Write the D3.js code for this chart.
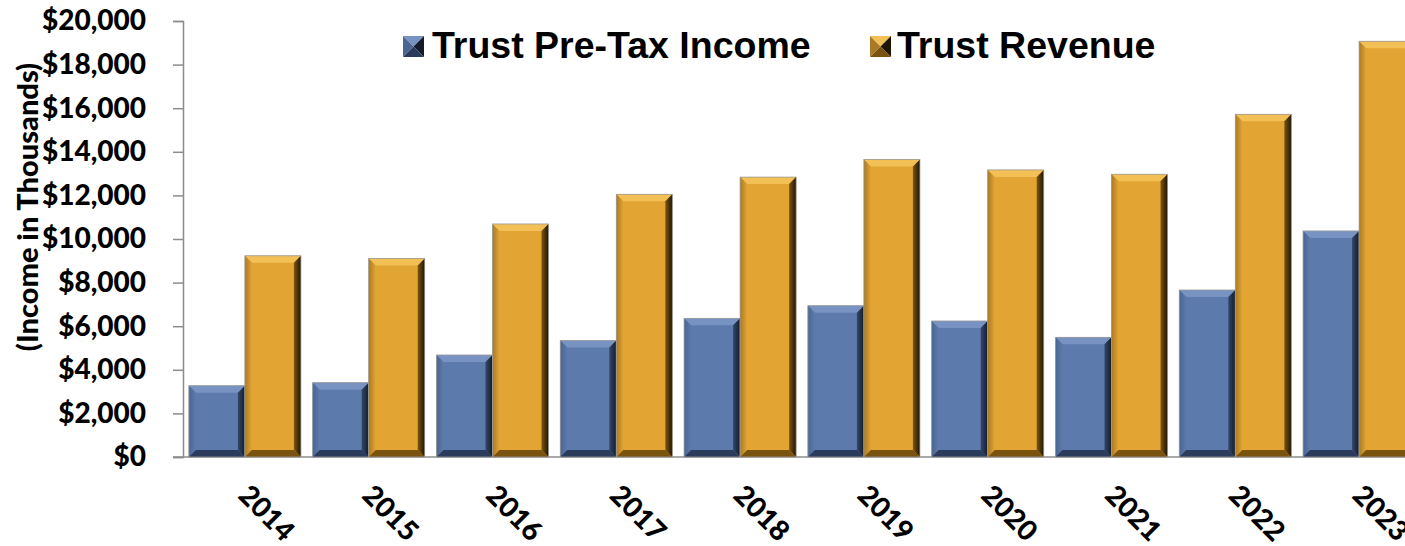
<!DOCTYPE html>
<html>
<head>
<meta charset="utf-8">
<script src="https://cdn.jsdelivr.net/npm/d3@7"></script>
<style>
  body { margin: 0; background: #fff; }
  svg { display: block; }
</style>
</head>
<body>
<div id="chart"></div>
<script>
// Data
const years = ["2014", "2015", "2016", "2017", "2018", "2019", "2020", "2021", "2022", "2023"];
const preTaxIncome = [3270, 3410, 4680, 5340, 6360, 6940, 6240, 5490, 7660, 10370];
const revenue = [9230, 9110, 10690, 12050, 12840, 13650, 13170, 12970, 15720, 19070];
const seriesNames = ["Trust Pre-Tax Income", "Trust Revenue"];
const yTicks = [0, 2000, 4000, 6000, 8000, 10000, 12000, 14000, 16000, 18000, 20000];

const W = 1405, H = 546;
const plot = {left: 183, right: 1421, top: 21, bottom: 457};

const svg = d3.select("#chart").append("svg")
    .attr("width", W)
    .attr("height", H);

const defs = svg.append("defs");

// colour sets for the bevelled bars
const styles = [
  {main: "#5c7aab", top: "#7893c2", left: "#4a6592", right1: "#33476a", right2: "#141c2b", bottom: "#2a3b5b"},
  {main: "#e2a433", top: "#f3c056", left: "#a97a24", right1: "#7e560f", right2: "#1e1503", bottom: "#7a540f"}
];
styles.forEach((s, i) => {
  const g = defs.append("linearGradient").attr("id", "rg" + i)
      .attr("x1", 0).attr("x2", 1).attr("y1", 0).attr("y2", 0);
  g.append("stop").attr("offset", "0%").attr("stop-color", s.right1);
  g.append("stop").attr("offset", "100%").attr("stop-color", s.right2);
  const l = defs.append("linearGradient").attr("id", "lg" + i)
      .attr("x1", 0).attr("x2", 1).attr("y1", 0).attr("y2", 0);
  l.append("stop").attr("offset", "0%").attr("stop-color", s.left);
  l.append("stop").attr("offset", "100%").attr("stop-color", s.main);
});

const x = d3.scaleBand()
    .domain(years)
    .range([plot.left, plot.right])
    .paddingInner(0.095)
    .paddingOuter(0.0475);

const xs = d3.scaleBand()
    .domain([0, 1])
    .range([0, x.bandwidth()]);

const y = d3.scaleLinear()
    .domain([0, 20000])
    .range([plot.bottom, plot.top]);

// Y axis
const yAxis = svg.append("g")
    .attr("transform", `translate(${plot.left},0)`)
    .call(d3.axisLeft(y).tickValues(yTicks).tickSize(10).tickPadding(27)
      .tickFormat(d => "$" + d3.format(",")(d)));
yAxis.select(".domain").attr("stroke", "#8c8c8c").attr("stroke-width", 1.5);
yAxis.selectAll(".tick line").attr("stroke", "#8c8c8c").attr("stroke-width", 1.5);
yAxis.selectAll(".tick text")
    .attr("font-family", "Lato, sans-serif")
    .attr("font-weight", 900)
    .attr("font-size", 28)
    .attr("fill", "#000");

// baseline
svg.append("line")
    .attr("x1", plot.left - 10).attr("x2", W)
    .attr("y1", y(0)).attr("y2", y(0))
    .attr("stroke", "#8c8c8c").attr("stroke-width", 1.5);

function bevel(sel, x0, y0, w, h, s, i) {
  const b = Math.min(7, h / 2, w / 2);
  const x1 = x0 + w, y1 = y0 + h;
  sel.append("rect").attr("x", x0).attr("y", y0).attr("width", w).attr("height", h).attr("fill", s.main);
  sel.append("polygon").attr("fill", s.top)
      .attr("points", [[x0, y0], [x1, y0], [x1 - b, y0 + b], [x0 + b, y0 + b]].join(" "));
  sel.append("polygon").attr("fill", `url(#lg${i})`)
      .attr("points", [[x0, y0], [x0 + b, y0 + b], [x0 + b, y1 - b], [x0, y1]].join(" "));
  sel.append("polygon").attr("fill", `url(#rg${i})`)
      .attr("points", [[x1, y0], [x1, y1], [x1 - b, y1 - b], [x1 - b, y0 + b]].join(" "));
  sel.append("polygon").attr("fill", s.bottom)
      .attr("points", [[x0, y1], [x0 + b, y1 - b], [x1 - b, y1 - b], [x1, y1]].join(" "));
  sel.append("rect").attr("x", x0).attr("y", y0).attr("width", w).attr("height", h)
      .attr("fill", "none").attr("stroke", "#9a9a9a").attr("stroke-width", 0.8);
}

// Bars
const rows = years.map((yr, k) => ({year: yr, vals: [preTaxIncome[k], revenue[k]]}));
const groups = svg.selectAll(".grp")
  .data(rows)
  .join("g")
    .attr("class", "grp");

groups.each(function(d) {
  const g = d3.select(this);
  d.vals.forEach((v, i) => {
    bevel(g.append("g"), x(d.year) + xs(i), y(v), xs.bandwidth(), y(0) - y(v), styles[i], i);
  });
});

// X labels, rotated
svg.selectAll(".xlab")
  .data(years)
  .join("text")
    .attr("class", "xlab")
    .attr("transform", d => `translate(${x(d) + x.bandwidth() / 2 - 8},${plot.bottom + 40}) rotate(45)`)
    .attr("font-family", "Lato, sans-serif")
    .attr("font-weight", 900)
    .attr("font-size", 28)
    .text(d => d);

// Y axis title
svg.append("text")
    .attr("transform", `translate(38,207) rotate(-90)`)
    .attr("text-anchor", "middle")
    .attr("font-family", "Lato, sans-serif")
    .attr("font-weight", 900)
    .attr("font-size", 29)
    .text("(Income in Thousands)");

// Legend
const legendPos = [{mx: 403, tx: 432}, {mx: 870, tx: 897}];
const legend = svg.selectAll(".leg")
  .data(seriesNames)
  .join("g")
    .attr("class", "leg");

legend.each(function(name, i) {
  const g = d3.select(this);
  const s = styles[i], m = 21, mx = legendPos[i].mx, my = 36;
  const c = [mx + m / 2, my + m / 2];
  g.append("polygon").attr("fill", s.top).attr("points", [[mx, my], [mx + m, my], c].join(" "));
  g.append("polygon").attr("fill", s.left).attr("points", [[mx, my], c, [mx, my + m]].join(" "));
  g.append("polygon").attr("fill", s.right2).attr("points", [[mx + m, my], [mx + m, my + m], c].join(" "));
  g.append("polygon").attr("fill", s.bottom).attr("points", [[mx, my + m], c, [mx, my + m]].join(" "));
  g.append("polygon").attr("fill", s.bottom).attr("points", [[mx, my + m], c, [mx + m, my + m]].join(" "));
  g.append("text")
      .attr("x", legendPos[i].tx)
      .attr("y", 58)
      .attr("font-family", "'Liberation Sans', Arial, sans-serif")
      .attr("font-weight", "bold")
      .attr("font-size", 37.5)
      .text(name);
});
</script>
</body>
</html>
